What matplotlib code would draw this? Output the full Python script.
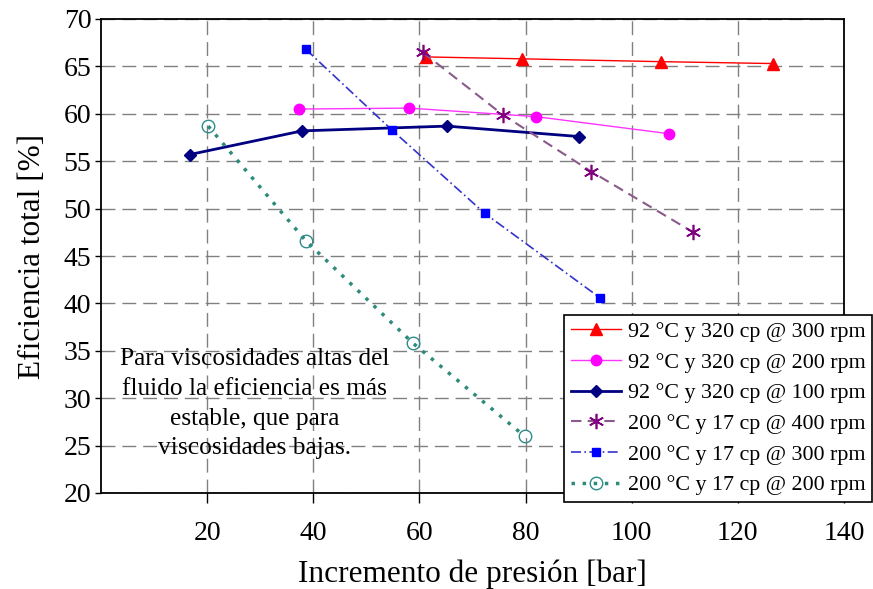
import matplotlib
matplotlib.use("Agg")
import matplotlib.pyplot as plt

plt.rcParams['font.family'] = ['Liberation Serif', 'DejaVu Serif']

# Data
labels = [
    "92 °C y 320 cp @ 300 rpm",
    "92 °C y 320 cp @ 200 rpm",
    "92 °C y 320 cp @ 100 rpm",
    "200 °C y 17 cp @ 400 rpm",
    "200 °C y 17 cp @ 300 rpm",
    "200 °C y 17 cp @ 200 rpm",
]
x_red = [61.3, 79.3, 105.5, 126.7]
y_red = [66.0, 65.8, 65.5, 65.3]
x_mag = [37.4, 58.1, 82.0, 107.0]
y_mag = [60.5, 60.6, 59.7, 57.9]
x_navy = [16.7, 37.9, 65.2, 90.1]
y_navy = [55.7, 58.2, 58.7, 57.6]
x_purp = [60.6, 75.7, 92.4, 111.6]
y_purp = [66.5, 59.9, 53.9, 47.5]
x_blue = [38.6, 54.8, 72.3, 94.0]
y_blue = [66.8, 58.3, 49.5, 40.6]
x_teal = [20.2, 38.6, 58.8, 79.8]
y_teal = [58.7, 46.6, 35.8, 26.0]

xticks = [20, 40, 60, 80, 100, 120, 140]
yticks = [20, 25, 30, 35, 40, 45, 50, 55, 60, 65, 70]

fig = plt.figure(figsize=(8.73, 5.89), dpi=100)
ax = fig.add_axes([101/873, 1-493/589, (844-101)/873, (493-19)/589])

ax.plot(x_red, y_red, color='#FF0000', lw=1.0, marker='^', ms=8, mec='#FF0000', mfc='#FF0000', label=labels[0], zorder=5)
ax.plot(x_mag, y_mag, color='#FF33FF', lw=1.0, marker='o', ms=7.5, mec='#FF00FF', mfc='#FF00FF', label=labels[1], zorder=5)
ax.plot(x_navy, y_navy, color='#000080', lw=2.0, marker='D', ms=6.5, mec='#000080', mfc='#000080', label=labels[2], zorder=5)
ax.plot(x_purp, y_purp, color='#8A5A8A', lw=1.5, ls=(0, (5, 3)), marker=(6, 2, 0), ms=11, mec='#800080', mew=1.2, label=labels[3], zorder=5)
ax.plot(x_blue, y_blue, color='#3333CC', lw=1.2, ls=(0, (6, 2, 1, 2)), marker='s', ms=6, mec='#0000FF', mfc='#0000FF', label=labels[4], zorder=5)
ax.plot(x_teal, y_teal, color='#2E8B7A', lw=2.5, ls=(0, (1, 2.2)), marker='o', ms=9, mec='#2E8B8B', mfc='none', mew=1.0, label=labels[5], zorder=5)

ax.set_xlim(0, 140)
ax.set_ylim(20, 70)
ax.set_xticks(xticks)
ax.set_yticks(yticks)
ax.tick_params(axis='both', labelsize=20, direction='out', color='black')
ax.tick_params(axis='x', length=7, width=1, pad=13)
ax.tick_params(axis='y', length=4, width=1, pad=3)

ax.grid(True, color='#808080', lw=1.0, ls=(0, (10, 5)))
ax.set_axisbelow(True)
for s in ax.spines.values():
    s.set_linewidth(1.3)
    s.set_color('black')

ax.set_xlabel("Incremento de presión [bar]", fontsize=22.5, labelpad=10)
ax.set_ylabel("Eficiencia total [%]", fontsize=22.5, labelpad=12)

ax.text(28.9, 29.4, "Para viscosidades altas del\nfluido la eficiencia es más\nestable, que para\nviscosidades bajas.",
        ha='center', va='center', multialignment='center', fontsize=18.3, linespacing=1.45)

leg = fig.legend(loc='upper right', bbox_to_anchor=(872/873, 1-315/589), borderaxespad=0,
                 fontsize=15.8, frameon=True, fancybox=False, framealpha=1, edgecolor='black',
                 handlelength=2.3, handletextpad=0.3, labelspacing=0.47, borderpad=0.3)
leg.get_frame().set_linewidth(1.2)

fig.savefig("out.png", dpi=100)
